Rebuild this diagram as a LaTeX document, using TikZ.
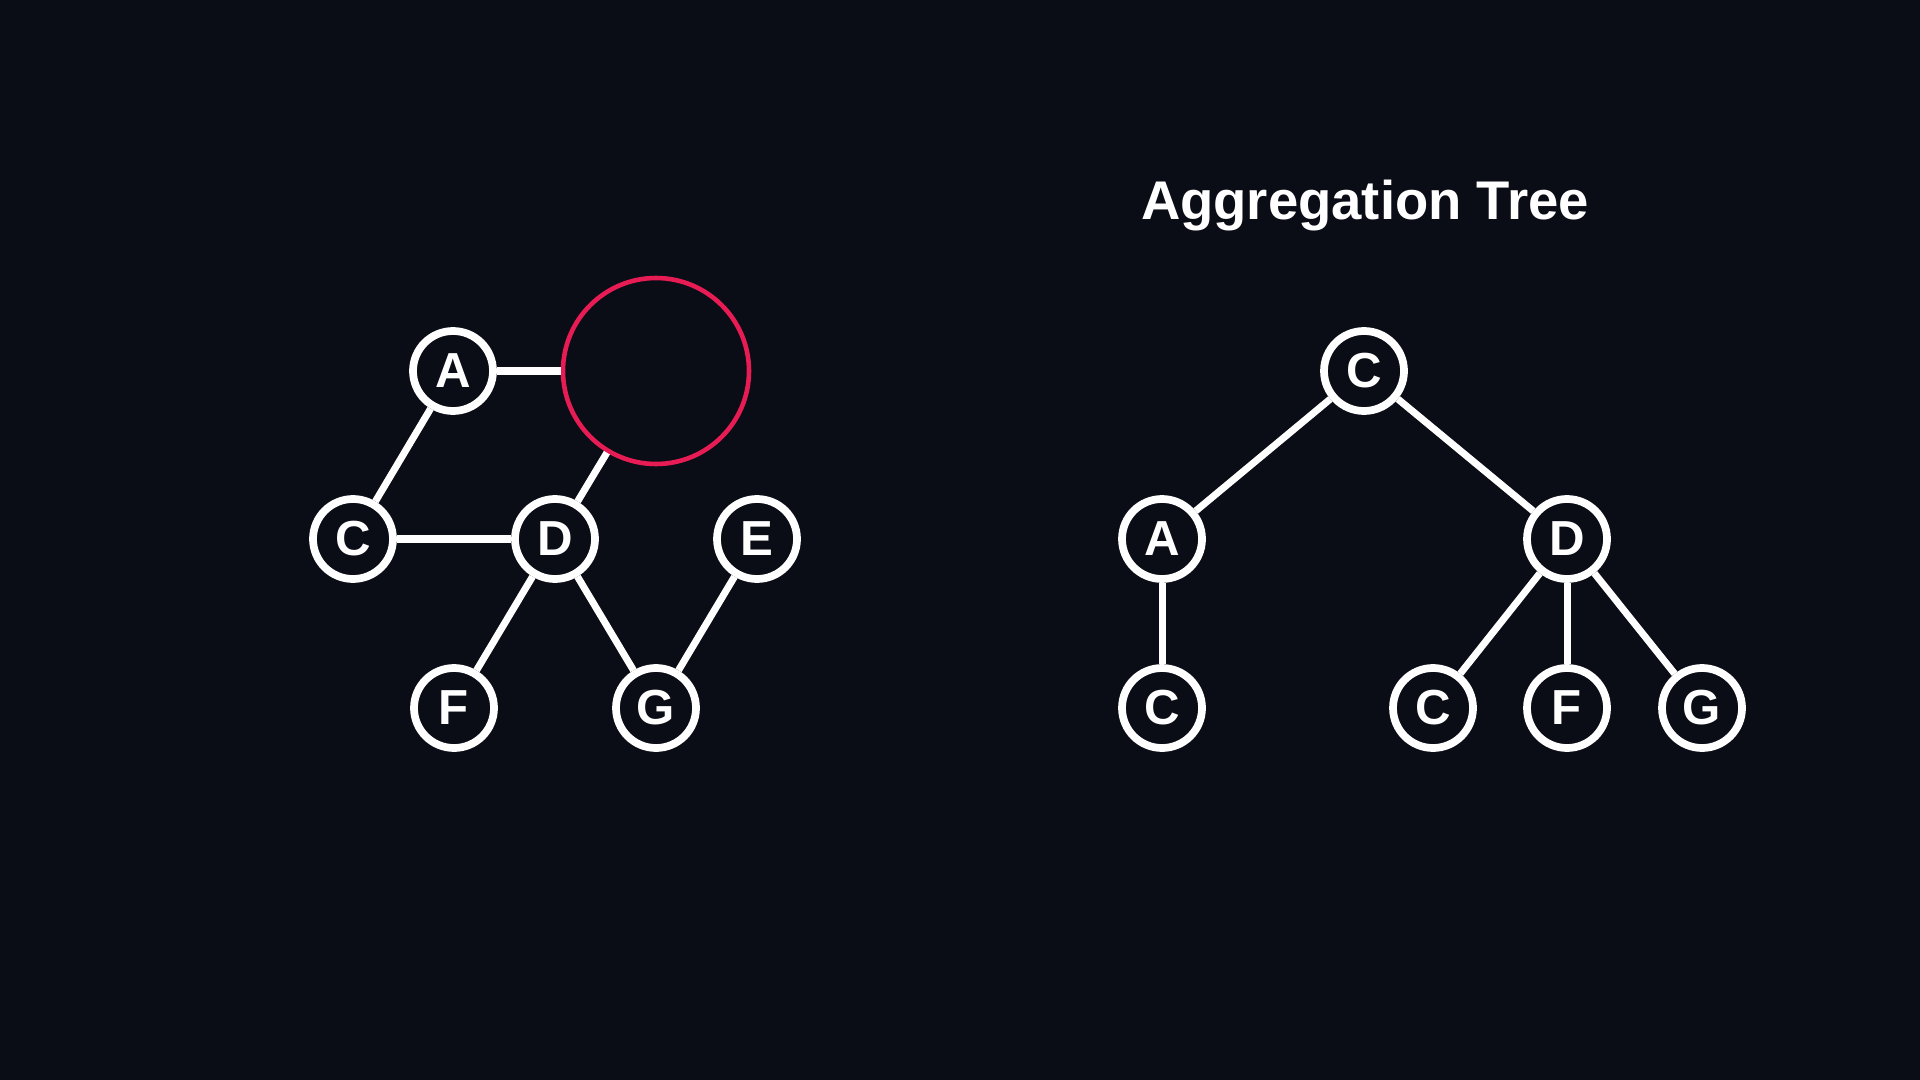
\documentclass[tikz,border=0pt]{standalone}
\usepackage{fontspec}
\setmainfont{Liberation Sans}
\usetikzlibrary{positioning}
\definecolor{nightbg}{RGB}{10,12,22}
\definecolor{hotred}{RGB}{232,28,84}
\tikzset{
  vtx/.style={
    circle, draw=white, line width=2.2pt, fill=nightbg,
    minimum size=0.8cm, inner sep=0pt, text=white,
    font=\fontsize{14}{14}\selectfont\bfseries},
  ghost/.style={
    circle, draw=hotred, line width=1.3pt,
    minimum size=1.86cm, inner sep=0pt},
  link/.style={draw=white, line width=2pt},
  ttl/.style={text=white, font=\fontsize{15.5}{16}\selectfont\bfseries},
}

\begin{document}
\begin{tikzpicture}[on grid]
  \fill[nightbg] (0,0) rectangle (19.2,-10.8);
  \useasboundingbox (0,0) rectangle (19.2,-10.8);

  % graph with the removed node
  \node[vtx] (ga) at (4.53,-3.71) {A};
  \node[vtx, below left=1.68cm and 1.0cm of ga] (gc) {C};
  \node[vtx, right=2.02cm of gc] (gd) {D};
  \node[vtx, right=2.02cm of gd] (ge) {E};
  \node[vtx, below left=1.69cm and 1.01cm of gd] (gf) {F};
  \node[vtx, below right=1.69cm and 1.01cm of gd] (gg) {G};
  \node[ghost, above right=1.68cm and 1.01cm of gd] (gring) {};
  \draw[link] (ga) -- (gc);
  \draw[link] (ga) -- (gring);
  \draw[link] (gring) -- (gd);
  \draw[link] (gc) -- (gd);
  \draw[link] (gd) -- (gf);
  \draw[link] (gd) -- (gg);
  \draw[link] (gg) -- (ge);

  % aggregation tree
  \node[ttl, anchor=base] (title) at (13.65,-2.2) {Aggregation Tree};
  \node[vtx] (root) at (13.64,-3.71) {C};
  \node[vtx, below left=1.68cm and 2.02cm of root] (ta) {A};
  \node[vtx, below right=1.68cm and 2.03cm of root] (td) {D};
  \node[vtx, below=1.69cm of ta] (tc1) {C};
  \node[vtx, below=1.69cm of td] (tf) {F};
  \node[vtx, left=1.34cm of tf] (tc2) {C};
  \node[vtx, right=1.35cm of tf] (tg) {G};
  \draw[link] (root) -- (ta);
  \draw[link] (root) -- (td);
  \draw[link] (ta) -- (tc1);
  \draw[link] (td) -- (tc2);
  \draw[link] (td) -- (tf);
  \draw[link] (td) -- (tg);
\end{tikzpicture}
\end{document}
